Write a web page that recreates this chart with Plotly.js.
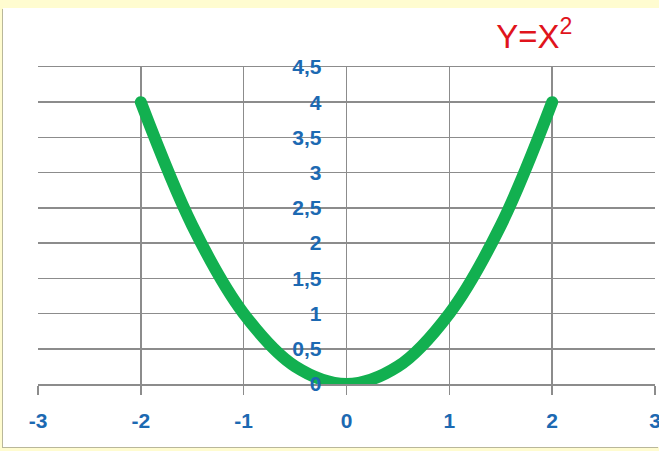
<!DOCTYPE html>
<html>
<head>
<meta charset="utf-8">
<script src="https://cdn.plot.ly/plotly-3.0.1.min.js"></script>
<style>
  html, body { margin: 0; padding: 0; width: 659px; height: 451px; overflow: hidden; background: #fffcd0; }
  #wrap { position: absolute; left: 3px; top: 8px; width: 656px; height: 439px; background: #ffffff;
          box-shadow: -1px 1px 0 #b9b79a; }
  #chart { width: 656px; height: 439px; }
  .js-line { stroke-linecap: round; }
</style>
</head>
<body>
<div id="wrap"><div id="chart"></div></div>
<script>
// Data (Y = X^2)
const xValues = [-2, -1.5, -1, -0.5, 0, 0.5, 1, 1.5, 2];
const yValues = [4, 2.25, 1, 0.25, 0, 0.25, 1, 2.25, 4];

const xTickValues = [-3, -2, -1, 0, 1, 2, 3];
const xTickLabels = ['-3', '-2', '-1', '0', '1', '2', '3'];
const yTickValues = [0, 0.5, 1, 1.5, 2, 2.5, 3, 3.5, 4, 4.5];
const yTickLabels = ['0', '0,5', '1', '1,5', '2', '2,5', '3', '3,5', '4', '4,5'];

const chartTitle = 'Y=X<sup>2</sup>';

const gridColor = '#8c8c8c';
const labelFont = { family: 'Liberation Sans, Arial, sans-serif', size: 21, color: '#1c69b2', weight: 'bold' };

const trace = {
  x: xValues,
  y: yValues,
  type: 'scatter',
  mode: 'lines',
  line: { color: '#12b050', width: 12, shape: 'spline', smoothing: 1 },
  hoverinfo: 'skip'
};

const layout = {
  width: 656,
  height: 439,
  margin: { l: 35, r: 4, t: 59, b: 63 },
  paper_bgcolor: '#ffffff',
  plot_bgcolor: '#ffffff',
  showlegend: false,
  separators: ',.',
  title: {
    text: chartTitle,
    font: { family: 'Liberation Sans, Arial, sans-serif', size: 33, color: '#e0141c' },
    xref: 'container', x: 0.81, xanchor: 'center',
    yref: 'container', y: 0.935, yanchor: 'middle'
  },
  xaxis: {
    range: [-3, 3],
    tickmode: 'array',
    tickvals: xTickValues,
    ticktext: xTickLabels,
    ticks: 'outside',
    ticklen: 9,
    tickwidth: 1.5,
    tickcolor: gridColor,
    ticklabelstandoff: 8,
    ticklabeloverflow: 'allow',
    tickfont: labelFont,
    showgrid: true,
    gridcolor: gridColor,
    gridwidth: 1.5,
    zeroline: false,
    showline: true,
    mirror: true,
    linecolor: gridColor,
    linewidth: 1.5,
    fixedrange: true
  },
  yaxis: {
    range: [0, 4.5],
    anchor: 'free',
    position: 0.5,
    side: 'left',
    tickmode: 'array',
    tickvals: yTickValues,
    ticktext: yTickLabels,
    ticks: '',
    ticklabelstandoff: 25,
    ticklabeloverflow: 'allow',
    tickfont: labelFont,
    showgrid: true,
    gridcolor: gridColor,
    gridwidth: 1.5,
    zeroline: false,
    showline: false,
    fixedrange: true
  }
};

Plotly.newPlot('chart', [trace], layout, { displayModeBar: false, staticPlot: true });
</script>
</body>
</html>
